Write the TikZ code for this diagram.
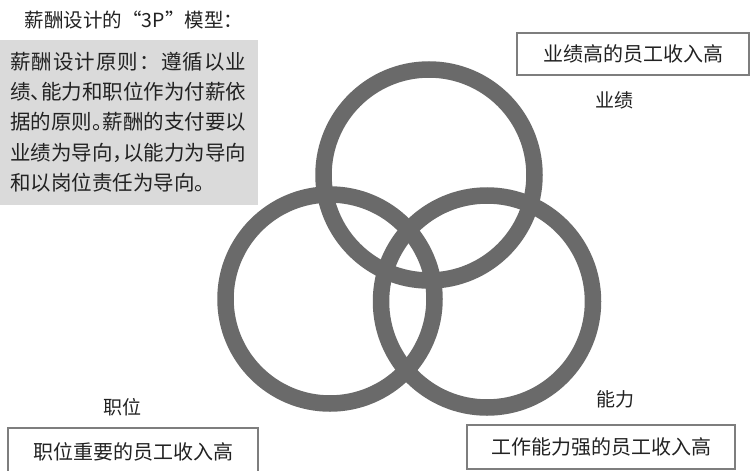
\documentclass[tikz,border=0pt]{standalone}
\usepackage{fontspec}
\newfontfamily\cjk[RawFeature={+halt}]{Noto Sans CJK SC}
\newfontfamily\cjkf{Noto Sans CJK SC}
\definecolor{ringgray}{HTML}{6A6A6A}
\definecolor{fillgray}{HTML}{DADADA}
\definecolor{boxgray}{HTML}{7E7E7E}
\definecolor{txt}{HTML}{222222}
\makeatletter
\def\jsp@end{\jsp@end}
\def\jspread#1{\jsp@first#1\jsp@end}
\def\jsp@first#1{#1\jsp@b}
\def\jsp@b#1{\ifx#1\jsp@end\else\hfil#1\expandafter\jsp@b\fi}
\makeatother
\begin{document}
\begin{tikzpicture}[x=1pt,y=-1pt,
  ring/.style={draw=ringgray, line width=16.5pt},
  lbl/.style={font=\cjkf\fontsize{19}{19}\selectfont, text=txt, inner sep=0pt},
  principle/.style={font=\cjk\fontsize{20.5}{20.5}\selectfont, text=txt, inner sep=0pt, anchor=west},
  box/.style={draw=boxgray, line width=2.8pt, inner sep=0pt, font=\cjkf\fontsize{20}{20}\selectfont, text=txt}
]
\useasboundingbox (0,0) rectangle (752,471);
\clip (0,0) rectangle (752,471);
\fill[white] (0,0) rectangle (752,471);
\fill[fillgray] (0,40) rectangle (258,205);

\draw[ring] (429,175) circle[radius=105.5pt];
\draw[ring] (330,299) circle[radius=104.5pt];
\draw[ring] (487,301.5) circle[radius=106pt];

\node[lbl, font=\cjkf\fontsize{19.5}{19.5}\selectfont] (title) at (134,20) {薪酬设计的“3P”模型：};

\node[principle] (p1) at (10,62) {\makebox[236pt][s]{\cjkf\jspread{薪酬设计原则：遵循以业}}};
\node[principle] (p2) at (10,92) {\makebox[236pt][s]{\jspread{绩、能力和职位作为付薪依}}};
\node[principle] (p3) at (10,122) {\makebox[236pt][s]{\jspread{据的原则。薪酬的支付要以}}};
\node[principle] (p4) at (10,153) {\makebox[236pt][s]{\jspread{业绩为导向，以能力为导向}}};
\node[principle] (p5) at (10,183) {和以岗位责任为导向。};

\node[box, minimum width=232pt, minimum height=42pt] (b1) at (633,54) {业绩高的员工收入高};
\node[box, minimum width=250pt, minimum height=48pt] (b2) at (133,452) {职位重要的员工收入高};
\node[box, minimum width=268pt, minimum height=44pt] (b3) at (601,447) {工作能力强的员工收入高};

\node[lbl] (yj) at (614,100) {业绩};
\node[lbl] (zw) at (122,407) {职位};
\node[lbl] (nl) at (615,399) {能力};
\end{tikzpicture}
\end{document}
